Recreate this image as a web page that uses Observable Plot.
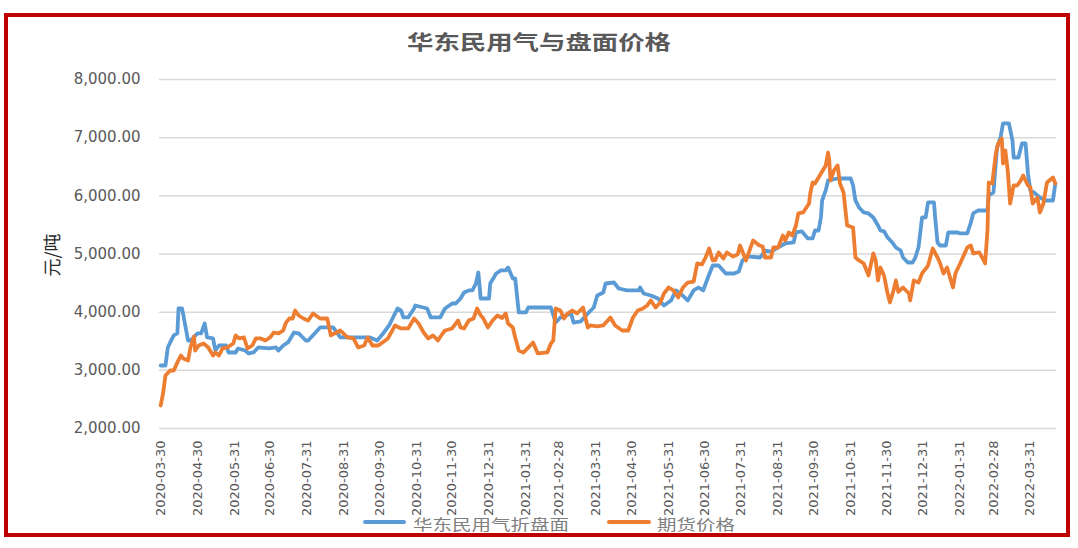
<!DOCTYPE html>
<html>
<head>
<meta charset="utf-8">
<script src="https://cdn.jsdelivr.net/npm/d3@7"></script>
<script src="https://cdn.jsdelivr.net/npm/@observablehq/plot@0.6"></script>
<style>
  html, body { margin: 0; padding: 0; background: #fff; }
  #wrap { position: relative; width: 1078px; height: 548px; overflow: hidden; background: #fff; }
  #frame { position: absolute; left: 4px; top: 13px; width: 1058px; height: 516px; border: 4px solid #c00000; box-sizing: content-box; pointer-events: none; }
  #chart { position: absolute; left: 0; top: 0; }
  #title { position: absolute; left: 0; width: 1078px; top: 28px; text-align: center; font-family: "Noto Sans CJK SC", sans-serif; font-size: 20px; font-weight: 700; color: #595959; line-height: 28px; }
  #title span { display: inline-block; transform: scaleX(1.32); }
  #ylabel { position: absolute; left: 51px; top: 255px; transform: translate(-50%, -50%) rotate(-90deg); font-family: "Noto Sans CJK SC", sans-serif; font-size: 18px; color: #262626; white-space: nowrap; }
  .leg { position: absolute; top: 515px; font-family: "Noto Sans CJK SC", sans-serif; font-size: 15px; color: #7f7f7f; line-height: 18px; white-space: nowrap; transform-origin: left center; transform: scaleX(1.3); }
  .sw { position: absolute; height: 4px; top: 520px; border-radius: 2px; }
  g[aria-label="y-axis tick label"] { font-size: 15px; }
  g[aria-label="x-axis tick label"] { font-size: 13px; }
</style>
</head>
<body>
<div id="wrap">
  <div id="chart"></div>
  <div id="title"><span>华东民用气与盘面价格</span></div>
  <div id="ylabel">元/吨</div>
  <div class="sw" style="left:363px;width:43px;background:#5b9bd5"></div>
  <div class="leg" id="leg1" style="left:413px">华东民用气折盘面</div>
  <div class="sw" style="left:607px;width:44px;background:#ed7d31"></div>
  <div class="leg" id="leg2" style="left:657px">期货价格</div>
  <div id="frame"></div>
</div>
<script>
// ---- data ----
const seriesNames = ["华东民用气折盘面", "期货价格"];
const seriesColors = ["#5b9bd5", "#ed7d31"];

const blueDates = [
  "2020-03-30","2020-04-03","2020-04-05","2020-04-07","2020-04-10","2020-04-13","2020-04-14","2020-04-17","2020-04-22","2020-04-24",
  "2020-04-30","2020-05-03","2020-05-06","2020-05-08","2020-05-13","2020-05-15","2020-05-18","2020-05-24","2020-05-26","2020-06-01",
  "2020-06-03","2020-06-09","2020-06-12","2020-06-16","2020-06-20","2020-06-29","2020-07-05","2020-07-07","2020-07-11","2020-07-15",
  "2020-07-20","2020-07-24","2020-07-30","2020-08-01","2020-08-11","2020-08-17","2020-08-22","2020-08-28","2020-09-08","2020-09-22",
  "2020-09-28","2020-10-03","2020-10-08","2020-10-15","2020-10-18","2020-10-20","2020-10-24","2020-10-29","2020-10-30","2020-11-09",
  "2020-11-12","2020-11-20","2020-11-24","2020-11-30","2020-12-03","2020-12-07","2020-12-10","2020-12-14","2020-12-17","2020-12-20",
  "2020-12-22","2020-12-24","2020-12-31","2021-01-01","2021-01-06","2021-01-10","2021-01-14","2021-01-16","2021-01-20","2021-01-22",
  "2021-01-25","2021-01-31","2021-02-02","2021-02-21","2021-02-25","2021-03-01","2021-03-10","2021-03-12","2021-03-18","2021-03-24",
  "2021-03-29","2021-04-01","2021-04-06","2021-04-08","2021-04-15","2021-04-19","2021-04-26","2021-05-06","2021-05-07","2021-05-10",
  "2021-05-16","2021-05-22","2021-05-27","2021-06-02","2021-06-06","2021-06-10","2021-06-16","2021-06-21","2021-06-25","2021-06-29",
  "2021-07-03","2021-07-07","2021-07-12","2021-07-18","2021-07-25","2021-07-29","2021-08-01","2021-08-05","2021-08-16","2021-08-20",
  "2021-08-25","2021-08-31","2021-09-06","2021-09-13","2021-09-15","2021-09-20","2021-09-25","2021-09-29","2021-10-01","2021-10-04",
  "2021-10-06","2021-10-07","2021-10-10","2021-10-12","2021-10-20","2021-10-31","2021-11-02","2021-11-04","2021-11-07","2021-11-11",
  "2021-11-15","2021-11-19","2021-11-23","2021-11-25","2021-11-28","2021-12-01","2021-12-05","2021-12-08","2021-12-12","2021-12-14",
  "2021-12-18","2021-12-22","2021-12-24","2021-12-27","2021-12-30","2022-01-02","2022-01-04","2022-01-09","2022-01-10","2022-01-12",
  "2022-01-14","2022-01-19","2022-01-21","2022-01-29","2022-01-31","2022-02-06","2022-02-09","2022-02-11","2022-02-15","2022-02-23",
  "2022-02-24","2022-02-28","2022-03-03","2022-03-06","2022-03-08","2022-03-13","2022-03-16","2022-03-17","2022-03-21","2022-03-24",
  "2022-03-27","2022-03-29","2022-03-31","2022-04-03","2022-04-08","2022-04-13","2022-04-19","2022-04-21"
];
const blueValues = [
  3083,3083,3393,3479,3600,3634,4063,4063,3513,3513,
  3634,3634,3806,3565,3548,3341,3427,3427,3307,3307,
  3376,3341,3290,3307,3393,3376,3393,3341,3427,3479,
  3650,3634,3513,3513,3737,3737,3737,3565,3565,3565,
  3513,3634,3771,4063,4030,3909,3909,4063,4115,4063,
  3909,3909,4063,4149,4149,4235,4338,4373,4373,4493,
  4682,4235,4235,4493,4665,4717,4717,4768,4579,4579,
  3995,3995,4080,4080,3822,3909,3977,3822,3840,3977,
  4080,4287,4338,4493,4510,4407,4373,4373,4424,4321,
  4287,4235,4115,4201,4373,4321,4201,4373,4424,4373,
  4596,4802,4802,4665,4665,4700,4889,4960,4940,5060,
  5040,5112,5181,5198,5370,5387,5267,5267,5404,5404,
  5628,5920,6092,6264,6298,6298,6178,5920,5800,5714,
  5697,5628,5490,5404,5390,5284,5198,5112,5060,4940,
  4854,4854,4923,5112,5628,5628,5886,5886,5628,5198,
  5146,5146,5370,5370,5353,5353,5542,5697,5748,5748,
  6006,6058,6831,7003,7244,7244,6951,6659,6659,6900,
  6900,6384,6092,6060,5972,5920,5920,6212
];

const orangeDates = [
  "2020-03-30","2020-04-01","2020-04-03","2020-04-07","2020-04-10","2020-04-13","2020-04-16","2020-04-18","2020-04-22","2020-04-24",
  "2020-04-27","2020-04-28","2020-05-01","2020-05-05","2020-05-09","2020-05-13","2020-05-15","2020-05-18","2020-05-21","2020-05-25",
  "2020-05-30","2020-06-01","2020-06-04","2020-06-08","2020-06-11","2020-06-15","2020-06-18","2020-06-22","2020-06-26","2020-06-30",
  "2020-07-03","2020-07-07","2020-07-11","2020-07-13","2020-07-16","2020-07-19","2020-07-21","2020-07-24","2020-07-28","2020-08-01",
  "2020-08-05","2020-08-11","2020-08-17","2020-08-20","2020-08-28","2020-09-03","2020-09-08","2020-09-12","2020-09-17","2020-09-20",
  "2020-09-24","2020-09-29","2020-10-07","2020-10-13","2020-10-18","2020-10-24","2020-10-29","2020-11-02","2020-11-06","2020-11-10",
  "2020-11-14","2020-11-18","2020-11-22","2020-11-24","2020-11-30","2020-12-05","2020-12-07","2020-12-10","2020-12-14","2020-12-18",
  "2020-12-21","2020-12-24","2020-12-26","2020-12-30","2021-01-03","2021-01-07","2021-01-11","2021-01-14","2021-01-16","2021-01-20",
  "2021-01-22","2021-01-25","2021-01-29","2021-02-02","2021-02-06","2021-02-10","2021-02-18","2021-02-21","2021-02-23","2021-02-25",
  "2021-03-01","2021-03-04","2021-03-07","2021-03-11","2021-03-15","2021-03-20","2021-03-24","2021-03-26","2021-04-01","2021-04-06",
  "2021-04-12","2021-04-16","2021-04-22","2021-04-27","2021-05-01","2021-05-05","2021-05-09","2021-05-13","2021-05-16","2021-05-20",
  "2021-05-24","2021-05-27","2021-05-31","2021-06-04","2021-06-08","2021-06-12","2021-06-16","2021-06-21","2021-06-24","2021-06-28",
  "2021-07-01","2021-07-04","2021-07-07","2021-07-09","2021-07-12","2021-07-16","2021-07-19","2021-07-24","2021-07-28","2021-07-30",
  "2021-08-04","2021-08-10","2021-08-15","2021-08-18","2021-08-20","2021-08-25","2021-08-27","2021-08-31","2021-09-04","2021-09-06",
  "2021-09-09","2021-09-12","2021-09-15","2021-09-17","2021-09-21","2021-09-26","2021-09-27","2021-09-29","2021-10-01","2021-10-06",
  "2021-10-10","2021-10-12","2021-10-13","2021-10-14","2021-10-17","2021-10-20","2021-10-22","2021-10-25","2021-10-28","2021-11-02",
  "2021-11-04","2021-11-07","2021-11-11","2021-11-15","2021-11-19","2021-11-21","2021-11-23","2021-11-25","2021-11-28","2021-12-01",
  "2021-12-03","2021-12-06","2021-12-08","2021-12-10","2021-12-14","2021-12-19","2021-12-20","2021-12-23","2021-12-27","2021-12-30",
  "2022-01-04","2022-01-08","2022-01-12","2022-01-14","2022-01-17","2022-01-20","2022-01-25","2022-01-27","2022-01-31","2022-02-06",
  "2022-02-09","2022-02-11","2022-02-16","2022-02-19","2022-02-21","2022-02-23","2022-02-24","2022-02-27","2022-03-02","2022-03-04",
  "2022-03-07","2022-03-08","2022-03-10","2022-03-12","2022-03-14","2022-03-17","2022-03-20","2022-03-23","2022-03-25","2022-03-29",
  "2022-03-31","2022-04-02","2022-04-06","2022-04-08","2022-04-11","2022-04-14","2022-04-19","2022-04-21"
];
const orangeValues = [
  2396,2602,2911,2997,2997,3135,3255,3204,3169,3393,
  3582,3341,3427,3462,3393,3255,3307,3255,3376,3393,
  3462,3600,3548,3565,3376,3427,3548,3548,3513,3565,
  3650,3634,3685,3806,3891,3891,4029,3943,3891,3857,
  3977,3891,3891,3600,3685,3565,3548,3393,3427,3565,
  3427,3427,3548,3771,3720,3720,3891,3800,3650,3548,
  3600,3513,3634,3685,3720,3857,3737,3720,3857,3891,
  4063,3943,3900,3737,3857,3943,3900,3977,3806,3737,
  3565,3341,3307,3393,3479,3290,3307,3462,3513,4063,
  4030,3891,3977,4029,3977,4080,3737,3771,3757,3771,
  3909,3771,3685,3685,3909,4029,4060,4115,4201,4080,
  4166,4321,4424,4373,4253,4424,4510,4527,4837,4820,
  4940,5095,4889,4889,5026,4923,5026,4957,4992,5146,
  4889,5233,5150,5130,4940,4940,5112,5112,5318,5233,
  5370,5318,5490,5697,5714,5868,6040,6229,6212,6384,
  6522,6745,6610,6264,6436,6522,6212,6058,5490,5456,
  4940,4889,4837,4631,5009,4889,4545,4768,4631,4321,
  4166,4373,4545,4350,4424,4321,4201,4545,4510,4665,
  4802,5095,4940,4850,4665,4768,4424,4665,4837,5112,
  5146,5009,5026,4923,4837,5404,6229,6212,6728,6900,
  6986,6556,6780,6436,5868,6178,6178,6264,6350,6178,
  6150,5868,5972,5714,5868,6229,6315,6212
];

const yTicks = [2000, 3000, 4000, 5000, 6000, 7000, 8000];
const xTickLabels = [
  "2020-03-30","2020-04-30","2020-05-31","2020-06-30","2020-07-31","2020-08-31","2020-09-30","2020-10-31","2020-11-30","2020-12-31",
  "2021-01-31","2021-02-28","2021-03-31","2021-04-30","2021-05-31","2021-06-30","2021-07-31","2021-08-31","2021-09-30","2021-10-31",
  "2021-11-30","2021-12-31","2022-01-31","2022-02-28","2022-03-31"
];
const xDomain = ["2020-03-29", "2022-04-22"];

// ---- build ----
const parse = d3.utcParse("%Y-%m-%d");
const blue = blueDates.map((d, i) => ({date: parse(d), value: blueValues[i], series: seriesNames[0]}));
const orange = orangeDates.map((d, i) => ({date: parse(d), value: orangeValues[i], series: seriesNames[1]}));

const chart = Plot.plot({
  width: 1078,
  height: 548,
  marginLeft: 159,
  marginRight: 22,
  marginTop: 79,
  marginBottom: 120,
  style: {fontFamily: "'DejaVu Sans', sans-serif", color: "#595959", background: "transparent", overflow: "visible"},
  x: {type: "utc", domain: xDomain.map(parse)},
  y: {domain: [2000, 8000]},
  marks: [
    Plot.gridY(yTicks, {stroke: "#d9d9d9", strokeOpacity: 1, strokeWidth: 1.5}),
    Plot.axisY(yTicks, {tickFormat: d3.format(",.2f"), tickSize: 0, tickPadding: 19, label: null}),
    Plot.axisX(xTickLabels.map(parse), {tickFormat: d3.utcFormat("%Y-%m-%d"), tickRotate: -90, tickSize: 0, tickPadding: 12, label: null}),
    Plot.lineY(blue, {x: "date", y: "value", stroke: seriesColors[0], strokeWidth: 3.8, strokeLinejoin: "round"}),
    Plot.lineY(orange, {x: "date", y: "value", stroke: seriesColors[1], strokeWidth: 3.8, strokeLinejoin: "round"})
  ]
});
document.getElementById("chart").appendChild(chart);
</script>
</body>
</html>
